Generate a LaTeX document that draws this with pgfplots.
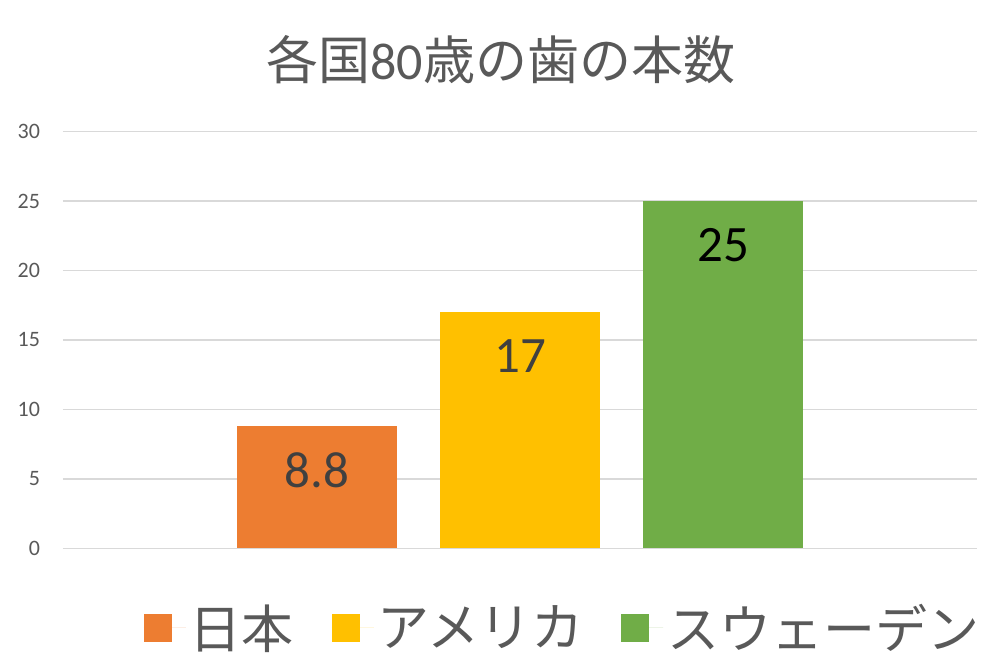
\documentclass[border=0pt]{standalone}
\usepackage{pgfplots}
\pgfplotsset{compat=1.18}
\usepackage{fontspec}
\setmainfont{Carlito}
\newfontfamily\jp{Noto Sans CJK JP}

\definecolor{cjapan}{HTML}{ED7D31}
\definecolor{cusa}{HTML}{FFC000}
\definecolor{csweden}{HTML}{70AD47}
\definecolor{txtgray}{HTML}{595959}
\definecolor{lblgray}{HTML}{404040}
\definecolor{gridgray}{HTML}{D9D9D9}

% 1 px of the reference = 0.5pt
\begin{document}
\begin{tikzpicture}
\path[use as bounding box] (0,0) rectangle (500.5pt,333.5pt);
\begin{axis}[
	at={(31.5pt,59.25pt)}, anchor=south west,
	scale only axis, width=457pt, height=208.5pt,
	xmin=63, xmax=977, ymin=0, ymax=30,
	xtick=\empty, ytick={0,5,...,30},
	axis line style={draw=none}, tick style={draw=none},
	ymajorgrids, grid style={draw=gridgray, line width=0.75pt},
	ybar, bar width=160,
	/pgf/number format/assume math mode=true,
	yticklabel style={font=\fontsize{11}{13}\selectfont, text=txtgray, xshift=-8pt},
	title={{\jp 各国}80{\jp 歳の歯の本数}},
	title style={at={(rel axis cs:0.479,1)}, anchor=base, yshift=20pt,
		font=\fontsize{26}{30}\selectfont, text=txtgray},
	nodes near coords,
	every node near coord/.append style={anchor=center, yshift=-22pt,
		font=\fontsize{25.5}{30}\selectfont},
	legend columns=3,
	legend style={at={(rel axis cs:0.088,-0.19)}, anchor=west, draw=none,
		inner sep=0pt, font=\jp\fontsize{26}{30}\selectfont, text=txtgray,
		/tikz/every even column/.append style={column sep=17pt}},
	legend image code/.code={\path (0pt,0pt) -- (21pt,0pt);
		\fill (0pt,-7pt) rectangle (14pt,7pt);},
]
\addplot[draw=none, fill=cjapan, bar shift=0pt,
	every node near coord/.append style={text=lblgray}] coordinates {(317,8.8)};
\addlegendentry{日本}
\addplot[draw=none, fill=cusa, bar shift=0pt,
	every node near coord/.append style={text=lblgray}] coordinates {(520,17)};
\addlegendentry{アメリカ}
\addplot[draw=none, fill=csweden, bar shift=0pt,
	every node near coord/.append style={text=black}] coordinates {(723,25)};
\addlegendentry{スウェーデン}
\end{axis}
\end{tikzpicture}
\end{document}
